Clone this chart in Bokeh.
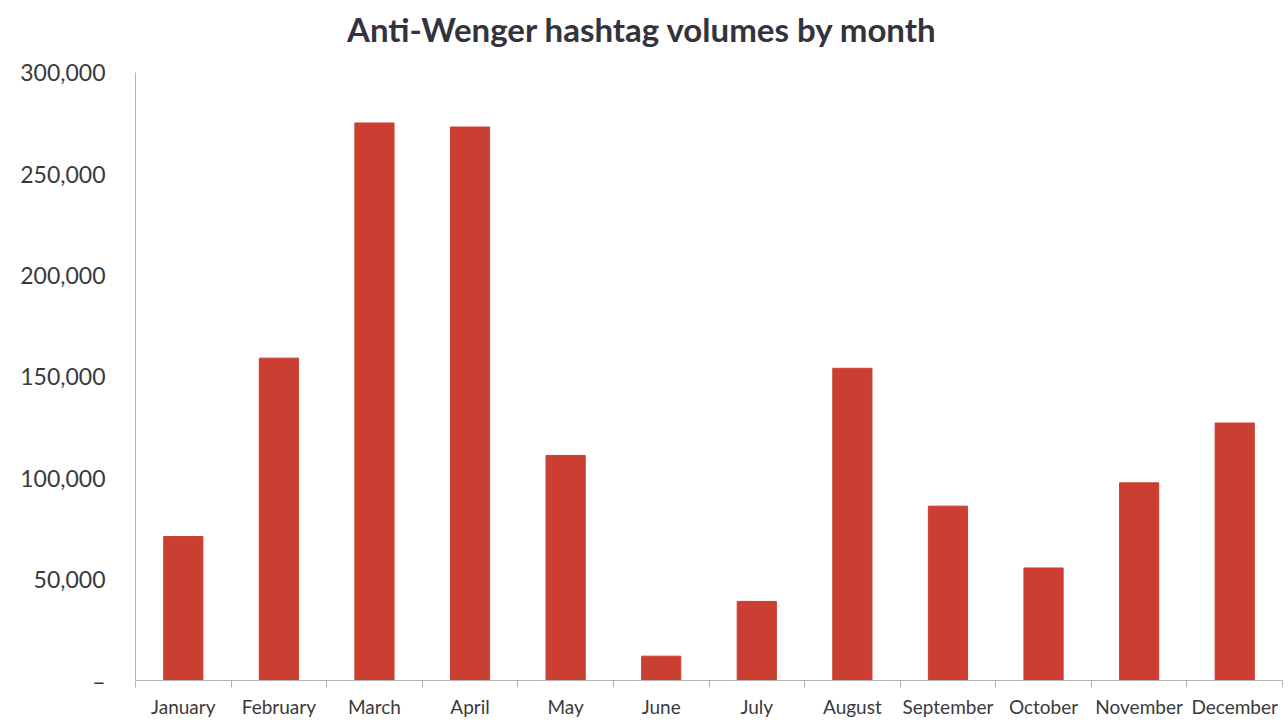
from bokeh.plotting import figure
from bokeh.models import FixedTicker, NumeralTickFormatter, Range1d, ColumnDataSource, Label
from bokeh.embed import file_html
from bokeh.resources import INLINE

title_text = "Anti-Wenger hashtag volumes by month"
months = ["January", "February", "March", "April", "May", "June", "July",
          "August", "September", "October", "November", "December"]
volumes = [71000, 159000, 275000, 273000, 111000, 12000, 39000,
           154000, 86000, 55500, 97500, 127000]
y_ticks = [0, 50000, 100000, 150000, 200000, 250000, 300000]
y_max = 300000

idx = list(range(len(months)))
src = ColumnDataSource(dict(x=idx, top=volumes, month=months))

FONT = "Lato"
TEXT = "#3a3a3a"
AXIS = "#b3b3b3"

W, H = 1288, 720
BORDER_BOTTOM = 38
FRAME_H = H - BORDER_BOTTOM          # frame spans from canvas top
AXIS_TOP_PX = 72                     # where the 300,000 tick sits
headroom = y_max * FRAME_H / (FRAME_H - AXIS_TOP_PX)

p = figure(width=W, height=H, output_backend="svg", toolbar_location=None,
           x_range=Range1d(-0.5, len(months) - 0.5), y_range=Range1d(0, headroom),
           min_border_left=135, min_border_right=6, min_border_top=0,
           min_border_bottom=BORDER_BOTTOM)

p.vbar(x="x", top="top", width=0.41, source=src, color="#ca3f31")

title = Label(x=507, y=FRAME_H - 30, x_units="screen", y_units="screen", text=title_text,
              text_align="center", text_baseline="middle", text_font=FONT,
              text_font_style="bold", text_font_size="33px", text_color="#33333d")
p.add_layout(title)

p.outline_line_color = None
p.xgrid.grid_line_color = None
p.ygrid.grid_line_color = None

xa = p.xaxis[0]
xa.ticker = FixedTicker(ticks=idx, minor_ticks=[i - 0.5 for i in idx] + [len(months) - 0.5])
xa.major_label_overrides = {i: m for i, m in zip(idx, months)}
xa.axis_line_color = AXIS
xa.major_tick_line_color = None
xa.major_tick_out = 0
xa.minor_tick_line_color = AXIS
xa.minor_tick_in = 0
xa.minor_tick_out = 7
xa.major_label_text_font = FONT
xa.major_label_text_font_size = "19px"
xa.major_label_text_color = TEXT
xa.major_label_standoff = 7

ya = p.yaxis[0]
ya.bounds = (0, y_max)
ya.ticker = FixedTicker(ticks=y_ticks, minor_ticks=[])
ya.formatter = NumeralTickFormatter(format="0,0")
ya.major_label_overrides = {0: "–"}
ya.axis_line_color = AXIS
ya.major_tick_line_color = None
ya.major_tick_out = 0
ya.minor_tick_line_color = None
ya.major_label_text_font = FONT
ya.major_label_text_font_size = "23px"
ya.major_label_text_color = TEXT
ya.major_label_standoff = 30

open("out.html", "w").write(file_html(p, INLINE))
